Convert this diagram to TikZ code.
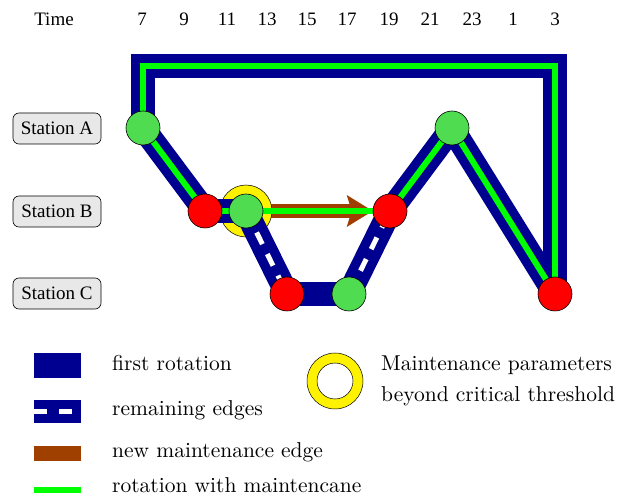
\documentclass[tikz,border=0pt]{standalone}
\usepackage{fontspec}
\newfontfamily\timesf{Liberation Serif}
\newfontfamily\legf{lmroman10-regular.otf}
\usetikzlibrary{arrows.meta}
\definecolor{navy}{RGB}{0,0,144}
\definecolor{nodegreen}{RGB}{80,220,80}
\definecolor{brightgreen}{RGB}{0,255,0}
\definecolor{mbrown}{RGB}{160,64,0}
\pgfdeclarelayer{lbrown}
\pgfdeclarelayer{lring}
\pgfdeclarelayer{lnavy}
\pgfdeclarelayer{lgreen}
\pgfsetlayers{lbrown,lring,lnavy,lgreen,main}
\begin{document}
\begin{tikzpicture}[x=1pt,y=-1pt,
  navyline/.style={draw=navy, line width=24pt, line join=miter},
  greenline/.style={draw=brightgreen, line width=6pt, line join=miter},
  whitedash/.style={draw=white, line width=5pt, dash pattern=on 13pt off 11pt},
  evnode/.style={circle, draw=black, line width=0.6pt, inner sep=0pt, minimum size=34pt},
  evg/.style={evnode, fill=nodegreen},
  evr/.style={evnode, fill=red},
  station/.style={draw=black, line width=0.6pt, rounded corners=6pt, fill=gray!18,
    minimum width=88pt, minimum height=31pt, inner sep=0pt, font=\timesf\fontsize{19}{22}\selectfont},
  timelbl/.style={anchor=base, inner sep=0pt, font=\timesf\fontsize{19}{22}\selectfont},
  legtext/.style={anchor=base west, inner sep=0pt, font=\legf\fontsize{21.5}{25}\selectfont}
]
\path[use as bounding box] (0,0) rectangle (633,497);

% time axis
\node[timelbl] (tTime) at (54,26) {Time};
\foreach \x/\t in {142/7,184/9,227/11,267/13,307/15,347/17,389/19,430/21,472/23,513/1,555/3}
  \node[timelbl] (t\t) at (\x,26) {\t};

% stations
\node[station] (sA) at (57,128.5) {Station A};
\node[station] (sB) at (57,211.5) {Station B};
\node[station] (sC) at (57,293.5) {Station C};

% event nodes
\node[evg] (a1) at (143,128) {};
\node[evr] (b1) at (205,211) {};
\node[evg] (b2) at (246,211) {};
\node[evr] (c1) at (287,294) {};
\node[evg] (c2) at (349,294) {};
\node[evr] (b3) at (390,211) {};
\node[evg] (a2) at (452,128) {};
\node[evr] (c3) at (555,294) {};
\coordinate (tl) at (143,66.5);
\coordinate (tr) at (555,66.5);

% new maintenance edge
\begin{pgfonlayer}{lbrown}
\draw[draw=mbrown, line width=14pt, -{Stealth[length=26pt,width=32pt,inset=5pt,line width=0pt,fill=mbrown]}] (b2.center) -- (b3.west);
\end{pgfonlayer}

% critical ring
\begin{pgfonlayer}{lring}
\node[circle, draw=black, line width=0.5pt, fill=yellow, inner sep=0pt, minimum size=52pt] (ring) at (246,211) {};
\end{pgfonlayer}

% first rotation
\begin{pgfonlayer}{lnavy}
\draw[navyline] (c3.center) -- (tr) -- (tl) -- (a1.center);
\draw[navyline] (a1.center) -- (b1.center);
\draw[navyline] (b1.center) -- (b2.center);
\draw[navyline] (b2.center) -- (c1.center);
\draw[navyline] (c1.center) -- (c2.center);
\draw[navyline] (c2.center) -- (b3.center);
\draw[navyline] (b3.center) -- (a2.center);
\draw[navyline] (a2.center) -- (c3.center);
\draw[whitedash] (b2.center) -- (c1.center);
\draw[whitedash, dash phase=22pt] (c2.center) -- (b3.center);
\end{pgfonlayer}

% rotation with maintenance
\begin{pgfonlayer}{lgreen}
\draw[greenline] (c3.center) -- (tr) -- (tl) -- (a1.center);
\draw[greenline] (a1.center) -- (b1.center);
\draw[greenline] (b1.center) -- (b2.center);
\draw[greenline] (b2.center) -- (b3.center);
\draw[greenline] (b3.center) -- (a2.center);
\draw[greenline] (a2.center) -- (c3.center);
\end{pgfonlayer}

% legend
\fill[navy] (34,353) rectangle (81,378);
\fill[navy] (34,400) rectangle (81,423);
\fill[white] (34,409) rectangle (47,414);
\fill[white] (59,409) rectangle (72,414);
\fill[mbrown] (34,446) rectangle (81,461);
\fill[brightgreen] (34,487) rectangle (81,493);
\node[legtext] (l1) at (112,371) {first rotation};
\node[legtext] (l2) at (112,416) {remaining edges};
\node[legtext] (l3) at (112,458) {new maintenance edge};
\node[legtext] (l4) at (112,493) {rotation with maintencane};
\filldraw[fill=yellow, draw=black, line width=0.5pt, even odd rule] (335,381) circle (28pt) (335,381) circle (18pt);
\node[legtext] (l5) at (381,371) {Maintenance parameters};
\node[legtext] (l6) at (381,402) {beyond critical threshold};
\end{tikzpicture}
\end{document}
